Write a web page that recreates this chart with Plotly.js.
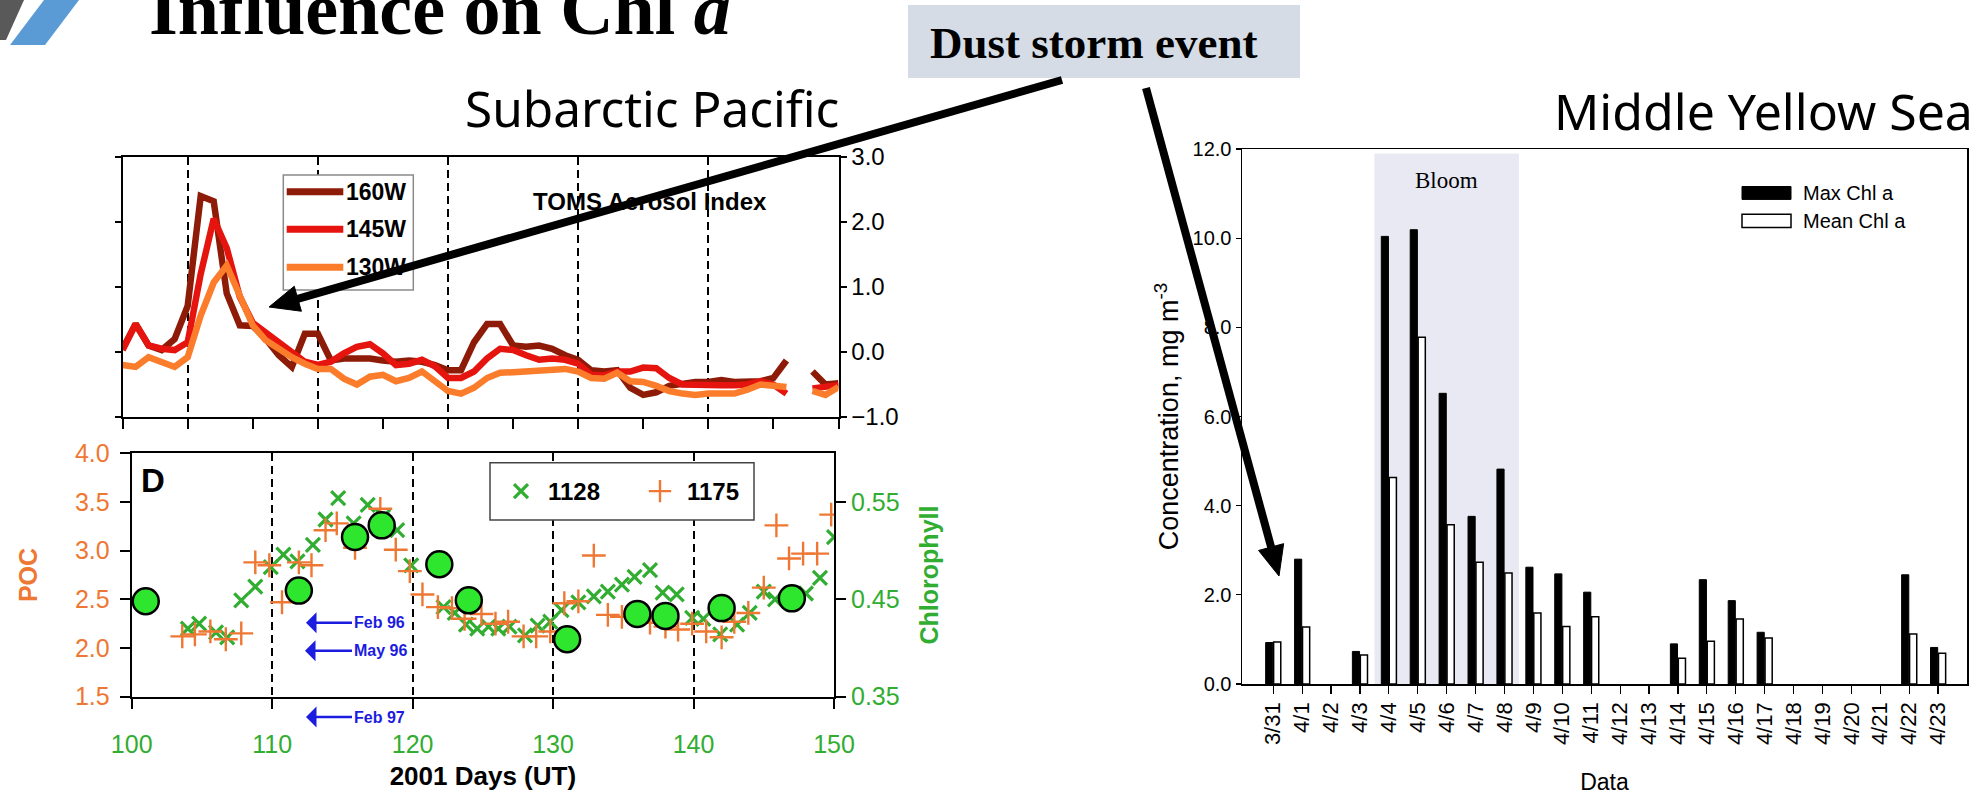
<!DOCTYPE html>
<html><head><meta charset="utf-8">
<script src="https://cdn.plot.ly/plotly-3.0.1.min.js"></script>
<style>html,body{margin:0;padding:0;background:#fff;overflow:hidden}#chart{width:1983px;height:803px}</style>
</head><body><div id="chart"></div>
<script>
// ---------------- DATA ----------------
// TOMS Aerosol Index (top-left panel), daily, 2001 days 95..150
const tomsDays = [95,96,97,98,99,100,101,102,103,104,105,106,107,108,109,110,111,112,113,114,115,116,117,118,119,120,121,122,123,124,125,126,127,128,129,130,131,132,133,134,135,136,137,138,139,140,141,142,143,144,145,146,147,148,149,150];
const aer160W = [0.05,0.43,0.10,0.03,0.20,0.71,2.40,2.32,0.90,0.41,0.40,0.20,-0.05,-0.23,0.28,0.28,-0.13,-0.10,-0.10,-0.10,-0.13,-0.15,-0.13,-0.15,-0.20,-0.28,-0.28,0.15,0.43,0.43,0.10,0.08,0.10,0.05,-0.05,-0.12,-0.28,-0.30,-0.28,-0.55,-0.66,-0.62,-0.52,-0.48,-0.46,-0.46,-0.43,-0.46,-0.46,-0.45,-0.40,-0.13,null,-0.30,-0.50,-0.48];
const aer145W = [0.03,0.43,0.10,0.05,0.03,0.15,1.20,2.05,1.60,0.85,0.45,0.30,0.12,-0.02,-0.15,-0.20,-0.15,-0.02,0.08,0.12,-0.02,-0.20,-0.18,-0.12,-0.22,-0.40,-0.40,-0.30,-0.10,0.05,0.03,-0.05,-0.12,-0.10,-0.12,-0.18,-0.35,-0.36,-0.30,-0.30,-0.24,-0.25,-0.40,-0.50,-0.51,-0.50,-0.51,-0.51,-0.50,-0.45,-0.50,-0.64,null,-0.56,-0.54,-0.51];
const aer130W = [-0.20,-0.23,-0.08,-0.15,-0.23,-0.08,0.56,1.07,1.33,0.87,0.41,0.18,0.05,-0.08,-0.18,-0.26,-0.26,-0.41,-0.50,-0.38,-0.35,-0.45,-0.40,-0.30,-0.45,-0.60,-0.64,-0.55,-0.40,-0.32,-0.31,-0.30,-0.30,-0.28,-0.26,-0.30,-0.40,-0.41,-0.32,-0.45,-0.46,-0.52,-0.60,-0.64,-0.66,-0.64,-0.65,-0.64,-0.58,-0.50,-0.52,-0.54,null,-0.60,-0.66,-0.54];

// POC floats (panel D)
const float1128Days = [104.0,104.8,106.0,106.8,107.8,108.8,109.9,110.8,111.8,112.9,113.8,114.7,115.8,116.8,117.9,118.9,119.9,122.2,123.0,123.8,124.6,125.4,126.1,126.9,128.0,128.9,129.8,130.6,131.8,132.9,133.9,134.9,135.8,136.9,137.8,138.8,139.9,140.7,141.9,143.1,144.0,145.0,145.8,147.0,148.0,149.0,150.0];
const float1128POC = [2.20,2.25,2.16,2.11,2.49,2.63,2.83,2.96,2.89,3.06,3.32,3.54,3.28,3.47,3.35,3.21,2.85,2.42,2.36,2.24,2.20,2.22,2.20,2.22,2.13,2.23,2.27,2.39,2.47,2.53,2.58,2.65,2.73,2.80,2.57,2.55,2.31,2.30,2.14,2.24,2.36,2.58,2.50,2.52,2.56,2.72,3.14];
const float1175Days = [103.6,104.5,105.6,106.7,107.8,108.8,109.8,110.7,111.9,112.8,113.8,114.6,115.9,117.7,118.8,119.8,120.7,121.8,122.8,123.7,124.9,125.9,126.8,127.9,128.8,129.8,130.8,131.8,132.9,133.9,134.9,136.9,138.0,138.9,139.9,140.9,142.0,142.9,143.9,145.0,145.9,146.8,147.8,148.8,149.8];
const float1175POC = [2.12,2.14,2.17,2.09,2.15,2.88,2.85,2.47,2.88,2.85,3.21,3.28,3.03,3.43,3.01,2.79,2.55,2.42,2.41,2.30,2.35,2.25,2.27,2.12,2.12,2.17,2.46,2.48,2.95,2.34,2.32,2.26,2.22,2.19,2.25,2.17,2.11,2.27,2.36,2.62,3.26,2.92,2.97,2.97,3.37];
const chlDays = [101.0,111.9,115.9,117.8,121.9,124.0,131.0,136.0,138.0,142.0,147.0];
const chlValues = [0.448,0.459,0.514,0.526,0.486,0.449,0.409,0.435,0.433,0.441,0.451];

// Middle Yellow Sea
const dates = ['3/31','4/1','4/2','4/3','4/4','4/5','4/6','4/7','4/8','4/9','4/10','4/11','4/12','4/13','4/14','4/15','4/16','4/17','4/18','4/19','4/20','4/21','4/22','4/23'];
const maxChl = [0.93,2.80,null,0.73,10.04,10.19,6.52,3.76,4.82,2.62,2.47,2.06,null,null,0.90,2.34,1.87,1.16,null,null,null,null,2.45,0.82];
const meanChl = [0.94,1.28,null,0.65,4.63,7.78,3.57,2.73,2.49,1.59,1.29,1.51,null,null,0.58,0.96,1.46,1.03,null,null,null,null,1.12,0.69];

// ---------------- LAYOUT HELPERS ----------------
const W = 1983, H = 803;
const px = v => v / W;
const py = v => 1 - v / H;
const SANS = 'Liberation Sans, Arial, sans-serif';
const SERIF = 'Liberation Serif, Times New Roman, serif';
const NOTO = 'Noto Sans, sans-serif';
const C160 = '#8e1b07', C145 = '#e5140f', C130 = '#fb7c2b';
const GREEN = '#31ad31', ORANGE = '#ee7833', BLUE = '#1c1ce0';
const DASH = '8px,5px';

// thick black call-out arrow built from a line + triangular head (pixel geometry)
function calloutArrow(tail, tip, headLen, headHalf, width) {
  const dx = tip[0] - tail[0], dy = tip[1] - tail[1];
  const len = Math.hypot(dx, dy);
  const ux = dx / len, uy = dy / len;
  const bx = tip[0] - ux * headLen, by = tip[1] - uy * headLen;
  const nx = -uy, ny = ux;
  const lx = bx + ux * 2, ly = by + uy * 2;
  return [
    {type: 'line', xref: 'paper', yref: 'paper', x0: px(tail[0]), y0: py(tail[1]), x1: px(lx), y1: py(ly),
     line: {color: '#000', width: width}, layer: 'above'},
    {type: 'path', xref: 'paper', yref: 'paper', layer: 'above', fillcolor: '#000', line: {color: '#000', width: 1},
     path: `M${px(tip[0])},${py(tip[1])} L${px(bx + nx * headHalf)},${py(by + ny * headHalf)} L${px(bx - nx * headHalf)},${py(by - ny * headHalf)} Z`}
  ];
}

const traces = [
  {x: tomsDays, y: aer160W, xaxis: 'x', yaxis: 'y', type: 'scatter', mode: 'lines', name: '160W',
   line: {color: C160, width: 6.5}, showlegend: false, connectgaps: false},
  {x: tomsDays, y: aer145W, xaxis: 'x', yaxis: 'y', type: 'scatter', mode: 'lines', name: '145W',
   line: {color: C145, width: 6.5}, showlegend: false, connectgaps: false},
  {x: tomsDays, y: aer130W, xaxis: 'x', yaxis: 'y', type: 'scatter', mode: 'lines', name: '130W',
   line: {color: C130, width: 6.5}, showlegend: false, connectgaps: false},

  {x: float1128Days, y: float1128POC, xaxis: 'x2', yaxis: 'y2', type: 'scatter', mode: 'markers', name: '1128',
   marker: {symbol: 'x-thin', size: 14, line: {color: GREEN, width: 3.2}}, legend: 'legend2'},
  {x: float1175Days, y: float1175POC, xaxis: 'x2', yaxis: 'y2', type: 'scatter', mode: 'markers', name: '1175',
   marker: {symbol: 'cross-thin', size: 17, line: {color: ORANGE, width: 2.4}}, legend: 'legend2'},
  {x: chlDays, y: chlValues, xaxis: 'x2', yaxis: 'y3', type: 'scatter', mode: 'markers', name: 'Chlorophyll',
   marker: {symbol: 'circle', size: 26, color: '#2fe62f', line: {color: '#000', width: 2.5}}, showlegend: false},

  {x: dates, y: maxChl, xaxis: 'x4', yaxis: 'y4', type: 'bar', name: 'Max Chl a',
   marker: {color: '#000', line: {color: '#000', width: 1}}, showlegend: false},
  {x: dates, y: meanChl, xaxis: 'x4', yaxis: 'y4', type: 'bar', name: 'Mean Chl a',
   marker: {color: '#fff', line: {color: '#000', width: 1.5}}, showlegend: false}
];

const axLine = {showline: true, linecolor: '#000', linewidth: 2, zeroline: false};

const layout = {
  width: W, height: H,
  margin: {l: 0, r: 0, t: 0, b: 0, pad: 0},
  paper_bgcolor: '#fff', plot_bgcolor: 'rgba(0,0,0,0)',
  font: {family: SANS, color: '#000'},
  showlegend: true,
  barmode: 'group', bargap: 0.45, bargroupgap: 0.1,

  // Top-left: TOMS aerosol index
  xaxis: Object.assign({}, axLine, {
    domain: [px(122.6), px(838.5)], anchor: 'y', range: [95, 150],
    tickmode: 'linear', tick0: 100, dtick: 10, ticks: 'outside', ticklen: 10, tickwidth: 2, tickcolor: '#000',
    showticklabels: false, mirror: true,
    showgrid: true, gridcolor: '#000', gridwidth: 2, griddash: DASH,
    minor: {tick0: 95, dtick: 5, ticks: 'outside', ticklen: 10, tickwidth: 2, tickcolor: '#000', showgrid: false}
  }),
  yaxis: Object.assign({}, axLine, {
    domain: [py(417), py(157)], anchor: 'x', side: 'right', range: [-1, 3],
    tickvals: [-1, 0, 1, 2, 3], tickformat: '.1f', ticks: 'outside', ticklen: 6, tickwidth: 2, tickcolor: '#000',
    mirror: 'ticks', showgrid: false, ticklabelstandoff: 0,
    tickfont: {size: 24, color: '#000', family: SANS}
  }),

  // Bottom-left: POC / chlorophyll
  xaxis2: Object.assign({}, axLine, {
    domain: [px(131.7), px(834)], anchor: 'y2', range: [100, 150],
    tickvals: [100, 110, 120, 130, 140, 150], ticks: 'outside', ticklen: 10, tickwidth: 2, tickcolor: '#000',
    mirror: true, showgrid: true, gridcolor: '#000', gridwidth: 2, griddash: DASH,
    tickfont: {size: 25, color: GREEN, family: SANS}, ticklabelstandoff: 14,
    title: {text: '<b>2001 Days (UT)</b>', font: {size: 26, color: '#000', family: SANS}, standoff: 10}
  }),
  yaxis2: Object.assign({}, axLine, {
    domain: [py(696.7), py(453.3)], anchor: 'x2', range: [1.5, 4.0],
    tickvals: [1.5, 2.0, 2.5, 3.0, 3.5, 4.0], tickformat: '.1f', ticks: 'outside', ticklen: 10, tickwidth: 2, tickcolor: '#000',
    showgrid: false, tickfont: {size: 25, color: ORANGE, family: SANS}, ticklabelstandoff: 5,
    title: {text: '<b>POC</b>', font: {size: 25, color: ORANGE, family: SANS}, standoff: 30}
  }),
  yaxis3: Object.assign({}, axLine, {
    overlaying: 'y2', anchor: 'x2', side: 'right', range: [0.35, 0.60],
    tickvals: [0.35, 0.45, 0.55], tickformat: '.2f', ticks: 'outside', ticklen: 10, tickwidth: 2, tickcolor: '#000',
    showgrid: false, tickfont: {size: 25, color: GREEN, family: SANS},
    title: {text: '<b>Chlorophyll</b>', font: {size: 25, color: GREEN, family: SANS}, standoff: 22}
  }),

  // Right: Middle Yellow Sea
  xaxis4: {
    domain: [px(1242), px(1967)], anchor: 'y4', type: 'category', range: [-1.08, 24.0],
    showline: true, linecolor: '#000', linewidth: 1.5, mirror: true, zeroline: false, showgrid: false,
    ticks: 'outside', ticklen: 8, tickwidth: 1.2, tickcolor: '#000', tickangle: -90,
    tickfont: {size: 22, color: '#000', family: SANS},
    title: {text: 'Data', font: {size: 23, color: '#000', family: SANS}, standoff: 30}
  },
  yaxis4: {
    domain: [py(684), py(149)], anchor: 'x4', range: [0, 12],
    tickvals: [0, 2, 4, 6, 8, 10, 12], tickformat: '.1f',
    showline: true, linecolor: '#000', linewidth: 1.5, mirror: true, zeroline: false, showgrid: false,
    ticks: 'outside', ticklen: 5, tickwidth: 1.2, tickcolor: '#000',
    tickfont: {size: 20, color: '#000', family: SANS},
    title: {text: 'Concentration, mg m<sup>-3</sup>', font: {size: 27, color: '#000', family: SANS}, standoff: 6}
  },

  legend2: {
    x: px(494), y: py(491.5), xanchor: 'left', yanchor: 'middle', orientation: 'h',
    bgcolor: 'rgba(0,0,0,0)', borderwidth: 0,
    font: {size: 24, color: '#000', family: SANS, weight: 'bold'},
    entrywidth: 80, itemwidth: 44, traceorder: 'normal'
  },

  shapes: [
    // logo chevrons
    {type: 'path', xref: 'paper', yref: 'paper', path: `M${px(0)},${py(0)} L${px(24)},${py(0)} L${px(6)},${py(40)} L${px(0)},${py(40)} Z`,
     fillcolor: '#595959', line: {width: 0}},
    {type: 'path', xref: 'paper', yref: 'paper', path: `M${px(44)},${py(0)} L${px(79)},${py(0)} L${px(45)},${py(45)} L${px(10)},${py(45)} Z`,
     fillcolor: '#5b9bd5', line: {width: 0}},
    // dust storm label box
    {type: 'rect', xref: 'paper', yref: 'paper', x0: px(908), x1: px(1300), y0: py(78), y1: py(5),
     fillcolor: '#d6dce5', line: {width: 0}, layer: 'below'},
    // top panel legend box + samples
    {type: 'rect', xref: 'paper', yref: 'paper', x0: px(283.3), x1: px(413.3), y0: py(290), y1: py(175),
     fillcolor: '#fff', line: {color: '#8a8a8a', width: 1.5}, layer: 'above'},
    {type: 'line', xref: 'paper', yref: 'paper', x0: px(286.7), x1: px(343.3), y0: py(191.7), y1: py(191.7), line: {color: C160, width: 7}, layer: 'above'},
    {type: 'line', xref: 'paper', yref: 'paper', x0: px(286.7), x1: px(343.3), y0: py(229.3), y1: py(229.3), line: {color: C145, width: 7}, layer: 'above'},
    {type: 'line', xref: 'paper', yref: 'paper', x0: px(286.7), x1: px(343.3), y0: py(267.3), y1: py(267.3), line: {color: C130, width: 7}, layer: 'above'},
    // panel D legend box
    {type: 'rect', xref: 'paper', yref: 'paper', x0: px(490), x1: px(754), y0: py(520), y1: py(462.7),
     fillcolor: '#fff', line: {color: '#444', width: 1.5}, layer: 'above'},
    // bloom shading
    {type: 'rect', xref: 'x4', yref: 'y4', x0: 3.5, x1: 8.5, y0: 0, y1: 11.9,
     fillcolor: '#e9e9f4', line: {width: 0}, layer: 'below'},
    // right legend keys
    {type: 'rect', xref: 'paper', yref: 'paper', x0: px(1742), x1: px(1791), y0: py(199.4), y1: py(186.5),
     fillcolor: '#000', line: {color: '#000', width: 1}},
    {type: 'rect', xref: 'paper', yref: 'paper', x0: px(1742), x1: px(1791), y0: py(227.5), y1: py(214.2),
     fillcolor: '#fff', line: {color: '#000', width: 1.5}}
  ]
  .concat(calloutArrow([1062, 80], [269, 307], 30, 13, 8))
  .concat(calloutArrow([1146, 88], [1279, 576], 30, 13, 8)),

  annotations: [
    {text: '<b>Influence on Chl <i>a</i></b>', xref: 'paper', yref: 'paper', x: px(147), y: py(52),
     xanchor: 'left', yanchor: 'bottom', showarrow: false, font: {family: SERIF, size: 74, color: '#000'}},
    {text: 'Subarctic Pacific', xref: 'paper', yref: 'paper', x: px(652), y: py(108),
     xanchor: 'center', yanchor: 'middle', showarrow: false, font: {family: NOTO, size: 49.5, color: '#000'}},
    {text: 'Middle Yellow Sea', xref: 'paper', yref: 'paper', x: px(1975), y: py(111),
     xanchor: 'right', yanchor: 'middle', showarrow: false, font: {family: NOTO, size: 50, color: '#000'}},
    {text: '<b>Dust storm event</b>', xref: 'paper', yref: 'paper', x: px(1093), y: py(43),
     xanchor: 'center', yanchor: 'middle', showarrow: false, font: {family: SERIF, size: 45, color: '#000'}},
    {text: '<b>TOMS Aerosol Index</b>', xref: 'paper', yref: 'paper', x: px(650), y: py(201),
     xanchor: 'center', yanchor: 'middle', showarrow: false, font: {family: SANS, size: 24, color: '#000'}},
    {text: '<b>160W</b>', xref: 'paper', yref: 'paper', x: px(344), y: py(191.7), xanchor: 'left', yanchor: 'middle',
     showarrow: false, font: {family: SANS, size: 23, color: '#000'}},
    {text: '<b>145W</b>', xref: 'paper', yref: 'paper', x: px(344), y: py(229.3), xanchor: 'left', yanchor: 'middle',
     showarrow: false, font: {family: SANS, size: 23, color: '#000'}},
    {text: '<b>130W</b>', xref: 'paper', yref: 'paper', x: px(344), y: py(267.3), xanchor: 'left', yanchor: 'middle',
     showarrow: false, font: {family: SANS, size: 23, color: '#000'}},
    {text: '<b>D</b>', xref: 'paper', yref: 'paper', x: px(152.5), y: py(481), xanchor: 'center', yanchor: 'middle',
     showarrow: false, font: {family: SANS, size: 33, color: '#000'}},
    // blue reference arrows
    {text: '<b>Feb 96</b>', xref: 'paper', yref: 'paper', x: px(306), y: py(622.7), ax: 73, ay: 0,
     showarrow: true, arrowhead: 1, arrowsize: 1.4, arrowwidth: 2.5, arrowcolor: BLUE,
     font: {family: SANS, size: 16, color: BLUE}},
    {text: '<b>May 96</b>', xref: 'paper', yref: 'paper', x: px(305), y: py(650.7), ax: 75, ay: 0,
     showarrow: true, arrowhead: 1, arrowsize: 1.4, arrowwidth: 2.5, arrowcolor: BLUE,
     font: {family: SANS, size: 16, color: BLUE}},
    {text: '<b>Feb 97</b>', xref: 'paper', yref: 'paper', x: px(306), y: py(717), ax: 73, ay: 0,
     showarrow: true, arrowhead: 1, arrowsize: 1.4, arrowwidth: 2.5, arrowcolor: BLUE,
     font: {family: SANS, size: 16, color: BLUE}},
    // right chart texts
    {text: 'Bloom', xref: 'x4', yref: 'y4', x: '4/6', y: 11.3, xanchor: 'center', yanchor: 'middle',
     showarrow: false, font: {family: SERIF, size: 23, color: '#000'}},
    {text: 'Max Chl a', xref: 'paper', yref: 'paper', x: px(1801), y: py(193), xanchor: 'left', yanchor: 'middle',
     showarrow: false, font: {family: SANS, size: 20, color: '#000'}},
    {text: 'Mean Chl a', xref: 'paper', yref: 'paper', x: px(1801), y: py(221), xanchor: 'left', yanchor: 'middle',
     showarrow: false, font: {family: SANS, size: 20, color: '#000'}}
  ]
};

Plotly.newPlot('chart', traces, layout, {displayModeBar: false, staticPlot: true});
</script>
</body></html>
